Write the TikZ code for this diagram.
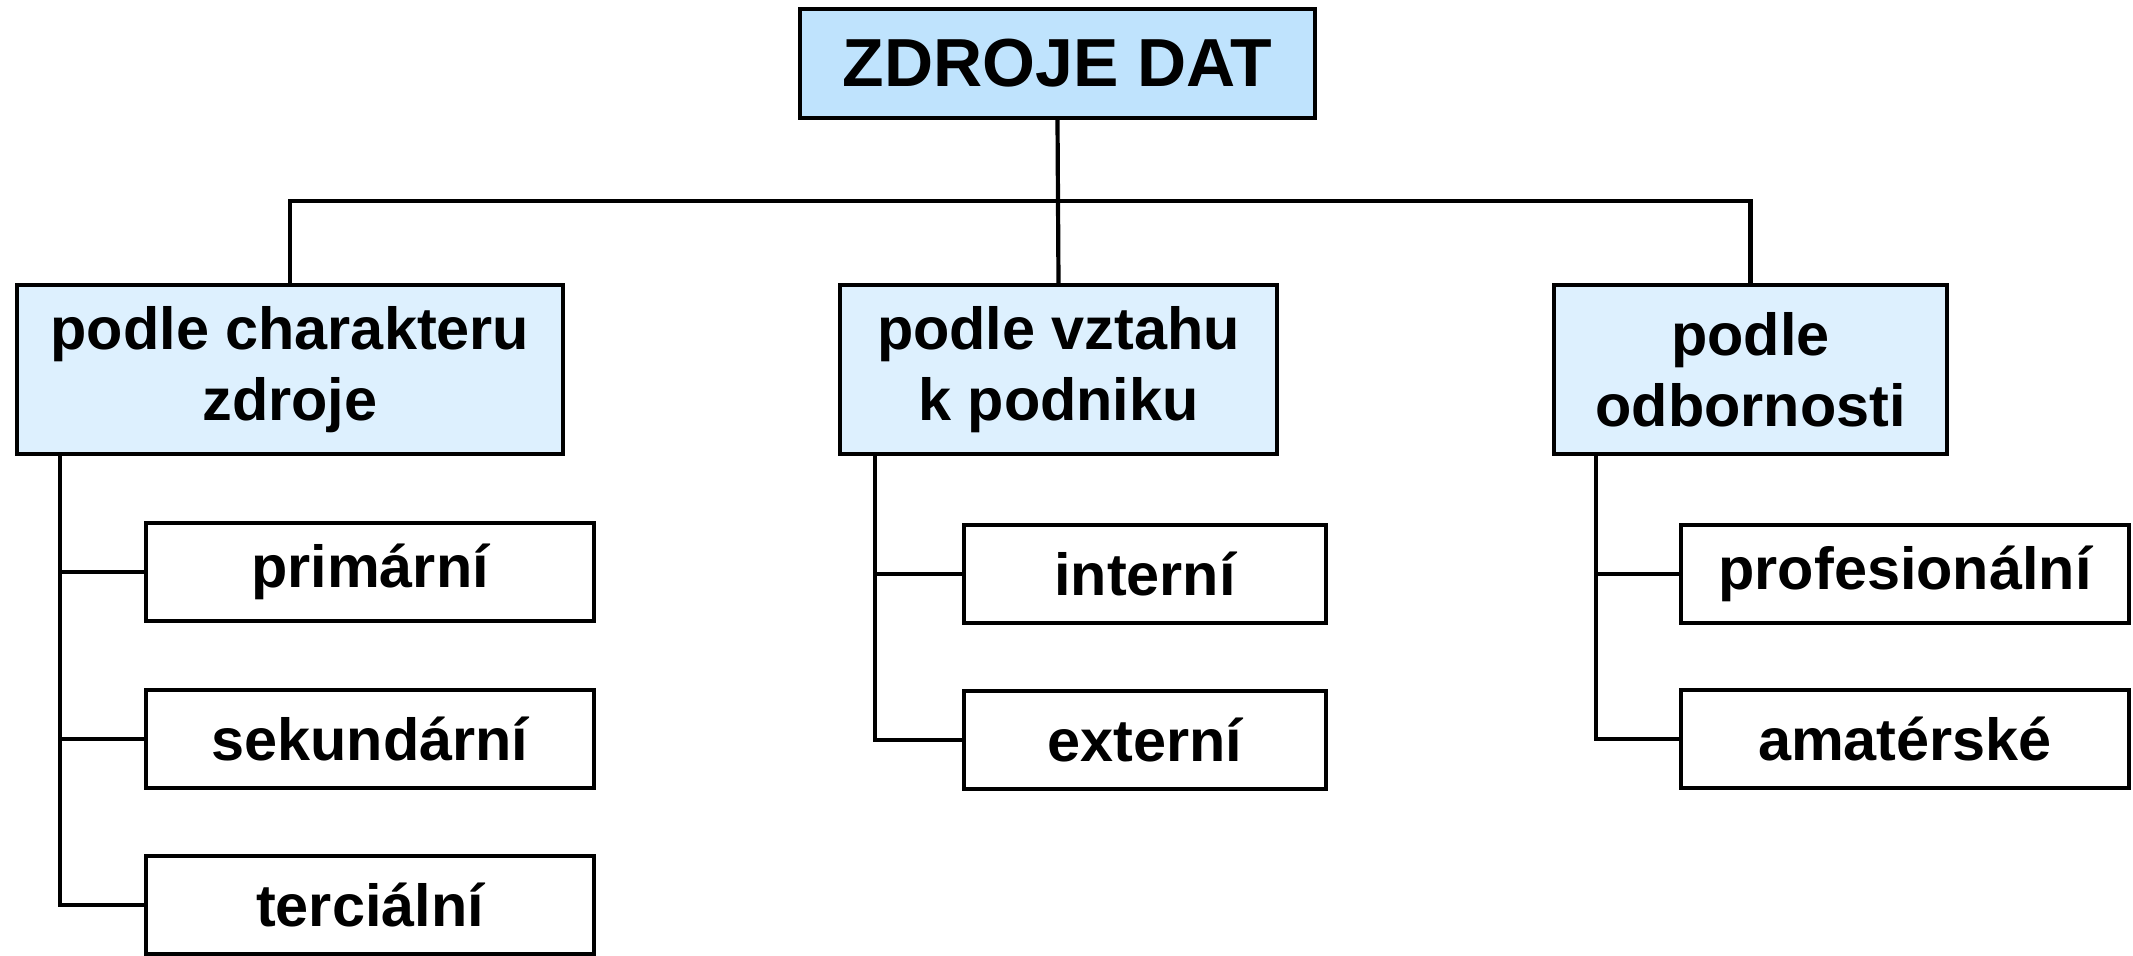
\documentclass[tikz,border=0pt]{standalone}
\usepackage{fontspec}
\setmainfont{Liberation Sans}
\definecolor{topblue}{RGB}{191,227,253}
\definecolor{midblue}{RGB}{221,240,254}
\tikzset{
  boxbase/.style={draw=black, line width=2.3pt, rectangle, inner sep=0pt, align=center,
    font=\bfseries\fontsize{29.7}{35.4}\selectfont},
  topbox/.style={boxbase, fill=topblue, minimum width=257.5pt, minimum height=54.5pt,
    font=\bfseries\fontsize{34}{40}\selectfont},
  catbox/.style={boxbase, fill=midblue, minimum height=84.5pt},
  leafbox/.style={boxbase, fill=white, minimum height=49pt},
  conn/.style={line width=2.1pt, line cap=rect}
}
\begin{document}
\begin{tikzpicture}[x=0.5pt, y=-0.5pt]
\useasboundingbox (0,0) rectangle (2133,956);
\node[topbox] (top) at (1057.5,63.5) {ZDROJE DAT};
\node[catbox, minimum width=273pt] (L1) at (290,369.5) {podle charakteru\\zdroje};
\node[catbox, minimum width=218.5pt] (M1) at (1058.5,369.5) {podle vztahu\\k podniku};
\node[catbox, minimum width=196.5pt] (R1) at (1750.5,369.5) {podle\\odbornosti};
\node[leafbox, minimum width=224pt] (p1) at (370,572) {primární};
\node[leafbox, minimum width=224pt] (p2) at (370,739) {sekundární};
\node[leafbox, minimum width=224pt] (p3) at (370,905) {terciální};
\node[leafbox, minimum width=181pt] (m1) at (1145,574) {interní};
\node[leafbox, minimum width=181pt] (m2) at (1145,740) {externí};
\node[leafbox, minimum width=224pt] (r1) at (1905,574) {profesionální};
\node[leafbox, minimum width=224pt] (r2) at (1905,739) {amatérské};
\coordinate (bus) at (0,201);
\coordinate (tL) at (60,0);
\coordinate (tM) at (875,0);
\coordinate (tR) at (1596,0);
\draw[conn] (top.south) -- (M1.north);
\draw[conn] (L1.north) -- (L1.north |- bus) -- (R1.north |- bus) -- (R1.north);
\draw[conn] (L1.south -| tL) |- (p3.west);
\draw[conn] (L1.south -| tL) |- (p1.west);
\draw[conn] (L1.south -| tL) |- (p2.west);
\draw[conn] (M1.south -| tM) |- (m2.west);
\draw[conn] (M1.south -| tM) |- (m1.west);
\draw[conn] (R1.south -| tR) |- (r2.west);
\draw[conn] (R1.south -| tR) |- (r1.west);
\end{tikzpicture}
\end{document}
